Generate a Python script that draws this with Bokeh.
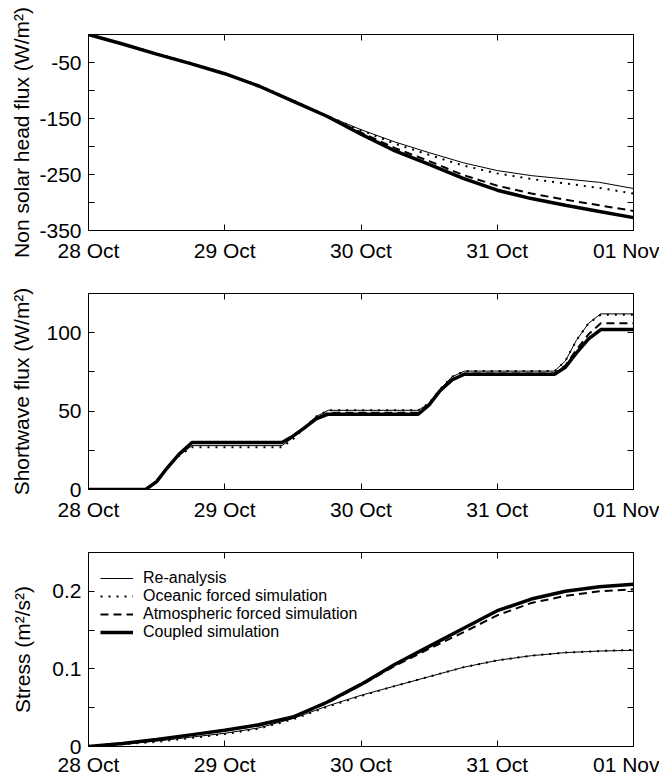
from bokeh.plotting import figure
from bokeh.models import FixedTicker, LinearAxis, Range1d, Legend, LegendItem, CustomJSTickFormatter
from bokeh.layouts import column
from bokeh.embed import file_html
from bokeh.resources import INLINE

# ---------------- data ----------------
days = [0, 0.25, 0.5, 0.75, 1, 1.25, 1.5, 1.75, 2, 2.25, 2.5, 2.75, 3, 3.25, 3.5, 3.75, 4]

heat_rean = [0, -17, -34, -51, -69, -91, -118, -145, -170, -192, -211, -229, -243, -252, -258, -264, -275]
heat_ocean = [0, -17, -34, -51, -69, -91, -118, -145, -171, -195, -215, -234, -248, -258, -266, -274, -284]
heat_atm = [0, -17, -35, -52, -70, -92, -119, -146, -175, -203, -226, -251, -270, -284, -295, -305, -315]
heat_coupled = [0, -17, -35, -52, -70, -92, -119, -146, -178, -208, -232, -257, -278, -293, -305, -316, -327]

sw_days = [0, 0.42, 0.5, 0.58, 0.67, 0.76, 1.42, 1.5, 1.58, 1.67, 1.76, 2.42, 2.5, 2.58, 2.67, 2.76,
           3.42, 3.5, 3.58, 3.67, 3.76, 4.0]
sw_rean = [0, 0, 5, 14, 22, 28, 28, 33, 39, 46.5, 50.5, 50.5, 55, 64, 72, 75.5, 75.5, 82, 95, 106, 112, 112]
sw_ocean = [0, 0, 5, 14, 22, 27, 27, 32, 39, 46.5, 50.5, 50.5, 55, 64, 72, 75.5, 75.5, 82, 95, 106, 111.5, 111.5]
sw_atm = [0, 0, 5, 14, 23, 30, 30, 34, 39, 45.5, 49, 49, 54, 63, 70.5, 74, 74, 79, 89, 99, 106, 106]
sw_coupled = [0, 0, 5, 14, 23, 30, 30, 34, 39, 45, 48, 48, 54, 63, 70, 73.5, 73.5, 78, 87, 96, 102, 102]

st_rean = [0, 0.003, 0.007, 0.012, 0.017, 0.024, 0.036, 0.052, 0.066, 0.078, 0.090, 0.102, 0.111, 0.117, 0.121, 0.123, 0.124]
st_ocean = [0, 0.003, 0.006, 0.011, 0.016, 0.023, 0.035, 0.051, 0.065, 0.078, 0.090, 0.102, 0.111, 0.117, 0.121, 0.123, 0.1245]
st_atm = [0, 0.004, 0.009, 0.015, 0.021, 0.027, 0.037, 0.056, 0.079, 0.104, 0.126, 0.147, 0.169, 0.185, 0.194, 0.200, 0.2025]
st_coupled = [0, 0.004, 0.009, 0.015, 0.021, 0.028, 0.038, 0.057, 0.080, 0.106, 0.129, 0.152, 0.175, 0.190, 0.200, 0.206, 0.209]

x_ticks = [0, 1, 2, 3, 4]
x_labels = ["28 Oct", "29 Oct", "30 Oct", "31 Oct", "01 Nov"]

heat_ticks = [-350, -300, -250, -200, -150, -100, -50]
heat_labels = ["-350", "", "-250", "", "-150", "", "-50"]
sw_ticks = [0, 25, 50, 75, 100]
sw_labels = ["0", "", "50", "", "100"]
st_ticks = [0, 0.05, 0.1, 0.15, 0.2]
st_labels = ["0", "", "0.1", "", "0.2"]

series_names = ["Re-analysis", "Oceanic forced simulation", "Atmospheric forced simulation", "Coupled simulation"]

FONT = "Liberation Sans"


def make_fig(h, top, bottom, yrange, yticks, ylabels, ylab, xstand, ylabstand):
    p = figure(width=659, height=h, x_range=Range1d(0, 4), y_range=Range1d(*yrange),
               output_backend="svg", toolbar_location=None,
               min_border_left=88, min_border_right=26, min_border_top=top, min_border_bottom=bottom)
    p.xgrid.visible = False
    p.ygrid.visible = False
    p.outline_line_color = "black"
    p.outline_line_alpha = 1
    p.outline_line_width = 1
    p.background_fill_color = "white"
    p.border_fill_color = "white"

    xa = p.xaxis[0]
    xa.ticker = FixedTicker(ticks=x_ticks)
    xa.major_label_overrides = {t: l for t, l in zip(x_ticks, x_labels)}
    ya = p.yaxis[0]
    ya.ticker = FixedTicker(ticks=yticks)
    ya.major_label_overrides = {t: l for t, l in zip(yticks, ylabels)}
    ya.axis_label = ylab
    ya.axis_label_standoff = ylabstand
    ya.axis_label_text_font = FONT
    ya.axis_label_text_font_size = "21px"
    ya.axis_label_text_font_style = "normal"
    ya.axis_label_text_color = "black"
    xa.major_label_standoff = xstand
    ya.major_label_standoff = 7
    for ax in (xa, ya):
        ax.major_tick_in = 6
        ax.major_tick_out = 0
        ax.minor_tick_line_color = None
        ax.axis_line_color = "black"
        ax.major_tick_line_color = "black"
        ax.major_label_text_font = FONT
        ax.major_label_text_font_size = "21px"
        ax.major_label_text_color = "black"

    top_ax = LinearAxis(ticker=FixedTicker(ticks=x_ticks), formatter=CustomJSTickFormatter(code="return ''"),
                        major_label_text_font_size="0px", major_label_standoff=0,
                        major_tick_in=6, major_tick_out=0, minor_tick_line_color=None,
                        axis_line_color="black", major_tick_line_color="black")
    right_ax = LinearAxis(ticker=FixedTicker(ticks=yticks), formatter=CustomJSTickFormatter(code="return ''"),
                          major_label_text_font_size="0px", major_label_standoff=0,
                          major_tick_in=6, major_tick_out=0, minor_tick_line_color=None,
                          axis_line_color="black", major_tick_line_color="black")
    p.add_layout(top_ax, "above")
    p.add_layout(right_ax, "right")
    return p


def draw(p, xs, rean, ocean, atm, coupled):
    rc = p.line(xs, coupled, line_color="black", line_width=3.5)
    ra = p.line(xs, atm, line_color="black", line_width=2, line_dash="8 5")
    rr = p.line(xs, rean, line_color="black", line_width=1)
    ro = p.line(xs, ocean, line_color="black", line_width=2, line_dash="2 6")
    return rr, ro, ra, rc


p1 = make_fig(264, 34, 32, (-350, 0), heat_ticks, heat_labels, "Non solar head flux (W/m²)", 8, 3)
draw(p1, days, heat_rean, heat_ocean, heat_atm, heat_coupled)

p2 = make_fig(259, 29, 32, (0, 125), sw_ticks, sw_labels, "Shortwave flux (W/m²)", 8, 10)
draw(p2, sw_days, sw_rean, sw_ocean, sw_atm, sw_coupled)

p3 = make_fig(255, 29, 30, (0, 0.25), st_ticks, st_labels, "Stress (m²/s²)", 6, 15)
rends = draw(p3, days, st_rean, st_ocean, st_atm, st_coupled)

legend = Legend(items=[LegendItem(label=n, renderers=[r]) for n, r in zip(series_names, rends)],
                location=(12, 105), border_line_color=None, background_fill_alpha=0,
                label_text_font=FONT, label_text_font_size="16px", label_text_color="black",
                glyph_width=33, glyph_height=18, label_height=18, label_standoff=10,
                spacing=0, padding=0, margin=0)
p3.add_layout(legend)

layout = column(p1, p2, p3)
open("out.html", "w").write(file_html(layout, INLINE))
